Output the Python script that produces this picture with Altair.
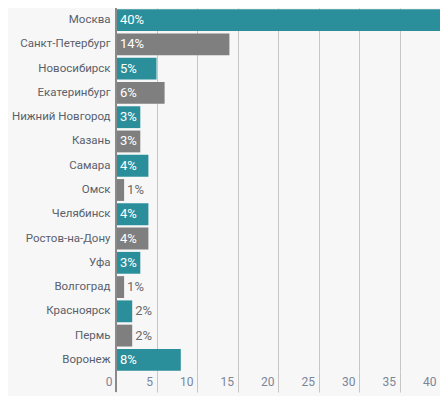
import altair as alt
import pandas as pd

cities = ["Москва", "Санкт-Петербург", "Новосибирск", "Екатеринбург", "Нижний Новгород",
          "Казань", "Самара", "Омск", "Челябинск", "Ростов-на-Дону", "Уфа", "Волгоград",
          "Красноярск", "Пермь", "Воронеж"]
values = [40, 14, 5, 6, 3, 3, 4, 1, 4, 4, 3, 1, 2, 2, 8]
x_ticks = [0, 5, 10, 15, 20, 25, 30, 35, 40]

df = pd.DataFrame({"city": cities, "value": values})
df["group"] = ["a" if i % 2 == 0 else "b" for i in range(len(df))]
df["label"] = [f"{v}%" for v in values]
df["inside"] = [v >= 3 for v in values]
df["lx"] = [0 if ins else v for v, ins in zip(values, df["inside"])]

FONT = "Roboto"
H = 364

base = alt.Chart(df)

y_enc = alt.Y("city:N", sort=cities, title=None,
              scale=alt.Scale(paddingInner=0.1, paddingOuter=0.05),
              axis=alt.Axis(domain=False, ticks=False, labelPadding=6, labelFontSize=11.5,
                            labelColor="#5a5f6b", labelFont=FONT, labelLimit=200))

bars = base.mark_bar().encode(
    y=y_enc,
    x=alt.X("value:Q", title=None,
            scale=alt.Scale(domain=[0, 40], nice=False),
            axis=alt.Axis(values=x_ticks, grid=True, gridColor="#c6c6c6", gridWidth=1,
                          domain=False, tickColor="#c6c6c6", tickSize=20,
                          labelAlign="right", labelOffset=-4, labelPadding=-16,
                          labelFontSize=12, labelColor="#7a869a", labelFont=FONT)),
    color=alt.Color("group:N", legend=None,
                    scale=alt.Scale(domain=["a", "b"], range=["#2b8f9b", "#7f7f7f"])),
)

text_in = base.transform_filter("datum.inside").mark_text(
    align="left", baseline="middle", dx=4, color="white", fontSize=13, font=FONT
).encode(y=alt.Y("city:N", sort=cities), x=alt.X("lx:Q"), text="label:N")

text_out = base.transform_filter("!datum.inside").mark_text(
    align="left", baseline="middle", dx=3, color="#6b6b6b", fontSize=13, font=FONT
).encode(y=alt.Y("city:N", sort=cities), x=alt.X("lx:Q"), text="label:N")

axis_line = alt.Chart(pd.DataFrame({"v": [0]})).mark_rule(color="#8a8a8a", strokeWidth=2).encode(
    x=alt.X("v:Q"), y=alt.value(0), y2=alt.value(H + 20))

chart = alt.layer(bars, text_in, text_out, axis_line).properties(
    width=324, height=H,
    background="#f7f7f7",
    padding={"left": 108, "top": 0, "right": 0, "bottom": 24},
    autosize=alt.AutoSizeParams(type="none"),
).configure_view(stroke=None)

chart.save("out.html", embed_options={"renderer": "svg", "actions": False})
